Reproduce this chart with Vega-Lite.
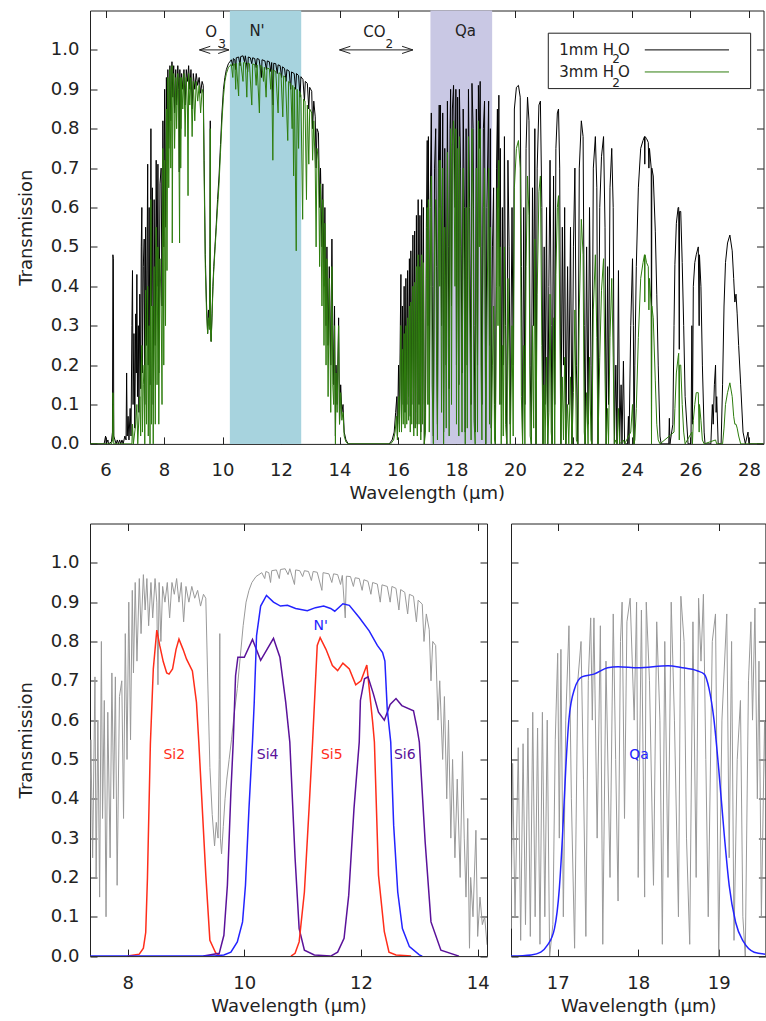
{
"$schema": "https://vega.github.io/schema/vega-lite/v6.json",
"padding": {"left": 16, "top": 9.5, "right": 0, "bottom": 0},
"config": {
 "font": "DejaVu Sans",
 "view": {"stroke": "#222", "strokeWidth": 1},
 "axis": {"domain": false, "grid": false, "tickColor": "#222", "tickWidth": 1, "tickSize": -7, "labelFontSize": 18, "labelColor": "#222", "titleFontSize": 18, "titleFontWeight": "normal", "titleColor": "#222"},
 "text": {"font": "DejaVu Sans", "color": "#222"}
},
"resolve": {"scale": {"color": "independent"}},
"datasets": {
 "t1": [
{"x":5.467,"y":0},{"x":5.95,"y":0},{"x":6.0,"y":0.02},{"x":6.02,"y":0},{"x":6.08,"y":0.01},{"x":6.1,"y":0},{"x":6.2,"y":0.005},{"x":6.235,"y":0.03},{"x":6.25,"y":0.48},{"x":6.265,"y":0.47},{"x":6.28,"y":0.02},{"x":6.32,"y":0.01},{"x":6.36,"y":0},{"x":6.4,"y":0.01},{"x":6.44,"y":0},{"x":6.48,"y":0.01},{"x":6.52,"y":0},{"x":6.56,"y":0.01},{"x":6.6,"y":0},{"x":6.66,"y":0.02},{"x":6.7,"y":0.01},{"x":6.72,"y":0.18},{"x":6.74,"y":0.02},{"x":6.77,"y":0.07},{"x":6.8,"y":0.01},{"x":6.84,"y":0.09},{"x":6.87,"y":0.02},{"x":6.9,"y":0.3},{"x":6.92,"y":0.44},{"x":6.94,"y":0.1},{"x":6.97,"y":0.28},{"x":7.0,"y":0.04},{"x":7.03,"y":0.33},{"x":7.05,"y":0.18},{"x":7.07,"y":0.43},{"x":7.09,"y":0.12},{"x":7.12,"y":0.3},{"x":7.14,"y":0.08},{"x":7.17,"y":0.38},{"x":7.2,"y":0.14},{"x":7.22,"y":0.5},{"x":7.24,"y":0.6},{"x":7.26,"y":0.18},{"x":7.29,"y":0.45},{"x":7.32,"y":0.52},{"x":7.34,"y":0.1},{"x":7.37,"y":0.55},{"x":7.4,"y":0.25},{"x":7.44,"y":0.71},{"x":7.46,"y":0.2},{"x":7.49,"y":0.6},{"x":7.52,"y":0.15},{"x":7.55,"y":0.8},{"x":7.57,"y":0.35},{"x":7.6,"y":0.65},{"x":7.63,"y":0.1},{"x":7.66,"y":0.62},{"x":7.7,"y":0.25},{"x":7.73,"y":0.72},{"x":7.76,"y":0.4},{"x":7.79,"y":0.71},{"x":7.82,"y":0.18},{"x":7.86,"y":0.66},{"x":7.9,"y":0.7},{"x":7.93,"y":0.35},{"x":7.96,"y":0.82},{"x":7.99,"y":0.5},{"x":8.02,"y":0.9},{"x":8.05,"y":0.55},{"x":8.08,"y":0.93},{"x":8.1,"y":0.72},{"x":8.13,"y":0.95},{"x":8.16,"y":0.75},{"x":8.2,"y":0.96},{"x":8.23,"y":0.82},{"x":8.27,"y":0.97},{"x":8.3,"y":0.88},{"x":8.33,"y":0.96},{"x":8.36,"y":0.84},{"x":8.4,"y":0.95},{"x":8.43,"y":0.86},{"x":8.47,"y":0.96},{"x":8.5,"y":0.9},{"x":8.52,"y":0.69},{"x":8.54,"y":0.95},{"x":8.57,"y":0.8},{"x":8.6,"y":0.94},{"x":8.64,"y":0.9},{"x":8.68,"y":0.95},{"x":8.72,"y":0.86},{"x":8.76,"y":0.95},{"x":8.8,"y":0.92},{"x":8.84,"y":0.96},{"x":8.88,"y":0.9},{"x":8.92,"y":0.95},{"x":8.96,"y":0.85},{"x":9.0,"y":0.94},{"x":9.05,"y":0.9},{"x":9.1,"y":0.94},{"x":9.15,"y":0.91},{"x":9.2,"y":0.93},{"x":9.25,"y":0.89},{"x":9.3,"y":0.92},{"x":9.34,"y":0.91},{"x":9.37,"y":0.72},{"x":9.41,"y":0.48},{"x":9.45,"y":0.36},{"x":9.49,"y":0.28},{"x":9.52,"y":0.34},{"x":9.55,"y":0.3},{"x":9.57,"y":0.5},{"x":9.58,"y":0.82},{"x":9.59,"y":0.3},{"x":9.61,"y":0.26},{"x":9.64,"y":0.33},{"x":9.67,"y":0.4},{"x":9.7,"y":0.45},{"x":9.74,"y":0.5},{"x":9.78,"y":0.55},{"x":9.83,"y":0.62},{"x":9.88,"y":0.68},{"x":9.93,"y":0.76},{"x":9.98,"y":0.84},{"x":10.03,"y":0.9},{"x":10.08,"y":0.93},{"x":10.13,"y":0.95},{"x":10.2,"y":0.965},{"x":10.25,"y":0.97},{"x":10.3,"y":0.975},
{"x":10.35,"y":0.96},{"x":10.37,"y":0.978},{"x":10.42,"y":0.975},{"x":10.45,"y":0.95},{"x":10.47,"y":0.98},{"x":10.55,"y":0.982},{"x":10.6,"y":0.96},{"x":10.62,"y":0.983},{"x":10.7,"y":0.985},{"x":10.75,"y":0.97},{"x":10.78,"y":0.985},{"x":10.86,"y":0.945},{"x":10.88,"y":0.982},{"x":10.95,"y":0.98},{"x":11.0,"y":0.965},{"x":11.03,"y":0.98},{"x":11.1,"y":0.978},{"x":11.15,"y":0.955},{"x":11.18,"y":0.978},{"x":11.25,"y":0.976},{"x":11.33,"y":0.93},{"x":11.35,"y":0.975},{"x":11.45,"y":0.972},{"x":11.5,"y":0.95},{"x":11.53,"y":0.972},{"x":11.6,"y":0.97},{"x":11.65,"y":0.945},{"x":11.68,"y":0.968},{"x":11.73,"y":0.86},{"x":11.75,"y":0.966},{"x":11.82,"y":0.965},{"x":11.87,"y":0.94},{"x":11.9,"y":0.962},{"x":11.97,"y":0.96},{"x":12.02,"y":0.93},{"x":12.05,"y":0.957},{"x":12.12,"y":0.953},{"x":12.17,"y":0.92},{"x":12.2,"y":0.95},{"x":12.28,"y":0.946},{"x":12.33,"y":0.9},{"x":12.36,"y":0.944},{"x":12.45,"y":0.94},{"x":12.5,"y":0.9},{"x":12.53,"y":0.94},{"x":12.6,"y":0.935},{"x":12.65,"y":0.88},{"x":12.68,"y":0.932},{"x":12.75,"y":0.925},{"x":12.8,"y":0.87},{"x":12.83,"y":0.92},{"x":12.9,"y":0.915},{"x":12.95,"y":0.85},{"x":12.98,"y":0.905},{"x":13.05,"y":0.895},{"x":13.08,"y":0.8},{"x":13.12,"y":0.87},{"x":13.17,"y":0.83},{"x":13.2,"y":0.7},{"x":13.23,"y":0.8},{"x":13.28,"y":0.79},{"x":13.32,"y":0.6},{"x":13.35,"y":0.7},{"x":13.4,"y":0.5},{"x":13.43,"y":0.66},{"x":13.47,"y":0.4},{"x":13.5,"y":0.6},{"x":13.54,"y":0.3},{"x":13.57,"y":0.5},{"x":13.61,"y":0.25},{"x":13.65,"y":0.45},{"x":13.7,"y":0.2},{"x":13.74,"y":0.52},{"x":13.77,"y":0.3},{"x":13.8,"y":0.15},{"x":13.83,"y":0.35},{"x":13.86,"y":0.02},{"x":13.88,"y":0.2},{"x":13.92,"y":0.1},{"x":13.97,"y":0.32},{"x":14.0,"y":0.05},{"x":14.04,"y":0.15},{"x":14.08,"y":0.08},{"x":14.12,"y":0.1},{"x":14.16,"y":0.03},{"x":14.22,"y":0.01},{"x":14.3,"y":0},{"x":15.7,"y":0},{"x":15.8,"y":0.01},{"x":15.87,"y":0.03},{"x":15.92,"y":0.08},{"x":15.96,"y":0.12},{"x":15.98,"y":0.02},{"x":16.02,"y":0.2},{"x":16.05,"y":0.05},{"x":16.08,"y":0.3},
{"x":16.1,"y":0.43},{"x":16.12,"y":0.06},{"x":16.15,"y":0.35},{"x":16.18,"y":0.1},{"x":16.21,"y":0.4},{"x":16.24,"y":0.08},{"x":16.27,"y":0.42},{"x":16.3,"y":0.1},{"x":16.33,"y":0.44},{"x":16.36,"y":0.12},{"x":16.39,"y":0.47},{"x":16.42,"y":0.07},{"x":16.44,"y":0.49},{"x":16.47,"y":0.1},{"x":16.51,"y":0.53},{"x":16.54,"y":0.04},{"x":16.57,"y":0.54},{"x":16.6,"y":0.08},{"x":16.63,"y":0.58},{"x":16.66,"y":0.05},{"x":16.69,"y":0.62},{"x":16.72,"y":0.1},{"x":16.75,"y":0.58},{"x":16.78,"y":0.03},{"x":16.81,"y":0.62},{"x":16.84,"y":0.1},{"x":16.87,"y":0.6},{"x":16.9,"y":0},{"x":16.94,"y":0.08},{"x":16.97,"y":0.55},{"x":17.0,"y":0.77},{"x":17.02,"y":0.3},{"x":17.04,"y":0.78},{"x":17.07,"y":0.1},{"x":17.1,"y":0.6},{"x":17.14,"y":0.84},{"x":17.17,"y":0.4},{"x":17.21,"y":0.02},{"x":17.25,"y":0.7},{"x":17.29,"y":0.8},{"x":17.32,"y":0.45},{"x":17.35,"y":0.05},{"x":17.38,"y":0.7},{"x":17.41,"y":0.86},{"x":17.43,"y":0.6},{"x":17.45,"y":0.86},{"x":17.49,"y":0.3},{"x":17.53,"y":0.84},{"x":17.56,"y":0.03},{"x":17.6,"y":0.75},{"x":17.65,"y":0.2},{"x":17.69,"y":0.87},{"x":17.72,"y":0.5},{"x":17.75,"y":0.14},{"x":17.78,"y":0.8},{"x":17.8,"y":0.9},{"x":17.83,"y":0.35},{"x":17.86,"y":0.85},{"x":17.9,"y":0.91},{"x":17.95,"y":0.6},{"x":17.98,"y":0.9},{"x":18.0,"y":0.2},{"x":18.04,"y":0.88},{"x":18.08,"y":0.15},{"x":18.1,"y":0.9},{"x":18.14,"y":0.7},{"x":18.19,"y":0.18},{"x":18.23,"y":0.85},{"x":18.27,"y":0.6},{"x":18.3,"y":0.03},{"x":18.33,"y":0.8},{"x":18.37,"y":0.2},{"x":18.41,"y":0.9},{"x":18.45,"y":0.6},{"x":18.5,"y":0.1},{"x":18.53,"y":0.915},{"x":18.57,"y":0.8},{"x":18.6,"y":0.3},{"x":18.64,"y":0.03},{"x":18.68,"y":0.85},{"x":18.72,"y":0.2},{"x":18.75,"y":0.91},{"x":18.78,"y":0.75},{"x":18.81,"y":0.92},{"x":18.84,"y":0.5},{"x":18.87,"y":0.1},{"x":18.92,"y":0.8},{"x":18.96,"y":0.87},{"x":19.0,"y":0},{"x":19.04,"y":0.6},{"x":19.1,"y":0.87},{"x":19.13,"y":0.25},{"x":19.16,"y":0.8},{"x":19.19,"y":0.04},{"x":19.23,"y":0.5},{"x":19.27,"y":0.65},{"x":19.3,"y":0.1},{"x":19.33,"y":0},{"x":19.37,"y":0.7},{"x":19.4,"y":0.85},{"x":19.42,"y":0.6},{"x":19.45,"y":0.885},{"x":19.48,"y":0.4},{"x":19.5,"y":0.75},{"x":19.53,"y":0.1},{"x":19.57,"y":0.6},{"x":19.6,"y":0.2},{"x":19.64,"y":0.78},{"x":19.68,"y":0.3},{"x":19.72,"y":0},{"x":19.76,"y":0.72},{"x":19.8,"y":0.5},{"x":19.84,"y":0.05},{"x":19.9,"y":0.6},{"x":19.94,"y":0.2},{"x":19.98,"y":0.85},{"x":20.05,"y":0.905},{"x":20.12,"y":0.91},{"x":20.18,"y":0.88},{"x":20.22,"y":0.45},{"x":20.26,"y":0},{"x":20.3,"y":0.6},{"x":20.34,"y":0.1},{"x":20.38,"y":0.75},{"x":20.43,"y":0.88},{"x":20.48,"y":0.82},{"x":20.52,"y":0.2},{"x":20.56,"y":0},{"x":20.6,"y":0.65},{"x":20.64,"y":0.3},{"x":20.68,"y":0.8},{"x":20.72,"y":0},{"x":20.76,"y":0.7},{"x":20.82,"y":0.86},{"x":20.87,"y":0.87},{"x":20.92,"y":0.6},{"x":20.96,"y":0},{"x":21.0,"y":0.5},{"x":21.03,"y":0.1},{"x":21.08,"y":0.6},{"x":21.12,"y":0},{"x":21.16,"y":0.4},{"x":21.2,"y":0.72},{"x":21.24,"y":0.3},{"x":21.27,"y":0},{"x":21.32,"y":0.68},{"x":21.36,"y":0.1},{"x":21.4,"y":0.75},{"x":21.45,"y":0.84},{"x":21.49,"y":0.85},{"x":21.53,"y":0.7},{"x":21.57,"y":0},{"x":21.62,"y":0.55},{"x":21.66,"y":0.2},{"x":21.7,"y":0.6},{"x":21.74,"y":0},{"x":21.8,"y":0.45},{"x":21.84,"y":0.1},{"x":21.9,"y":0.55},{"x":21.95,"y":0},{"x":22.0,"y":0.5},{"x":22.05,"y":0.7},{"x":22.1,"y":0.2},{"x":22.15,"y":0},{"x":22.2,"y":0.7},{"x":22.27,"y":0.82},{"x":22.33,"y":0.78},{"x":22.37,"y":0.3},{"x":22.4,"y":0},{"x":22.45,"y":0.5},{"x":22.5,"y":0.05},{"x":22.55,"y":0.6},{"x":22.6,"y":0.2},{"x":22.63,"y":0},{"x":22.68,"y":0.7},{"x":22.75,"y":0.78},{"x":22.8,"y":0.65},{"x":22.84,"y":0},{"x":22.9,"y":0.6},{"x":22.96,"y":0.73},{"x":23.03,"y":0.78},{"x":23.08,"y":0.55},{"x":23.12,"y":0},{"x":23.17,"y":0.45},{"x":23.2,"y":0.1},{"x":23.25,"y":0.65},{"x":23.31,"y":0.75},{"x":23.36,"y":0.6},{"x":23.4,"y":0},{"x":23.45,"y":0.2},{"x":23.49,"y":0},{"x":23.54,"y":0.44},{"x":23.58,"y":0},{"x":23.63,"y":0.15},{"x":23.66,"y":0},{"x":23.71,"y":0.21},{"x":23.75,"y":0},{"x":23.85,"y":0},{"x":23.88,"y":0.07},{"x":23.9,"y":0},{"x":23.96,"y":0.3},{"x":24.02,"y":0.47},{"x":24.05,"y":0.3},{"x":24.07,"y":0},{"x":24.1,"y":0.2},{"x":24.15,"y":0.45},{"x":24.22,"y":0.65},{"x":24.3,"y":0.75},{"x":24.38,"y":0.77},{"x":24.43,"y":0.78},{"x":24.44,"y":0.71},{"x":24.45,"y":0.78},{"x":24.5,"y":0.775},{"x":24.56,"y":0.765},{"x":24.58,"y":0.7},{"x":24.6,"y":0.75},{"x":24.66,"y":0.7},{"x":24.67,"y":0.02},{"x":24.68,"y":0.7},{"x":24.73,"y":0.68},{"x":24.8,"y":0.54},{"x":24.85,"y":0.38},{"x":24.9,"y":0.2},{"x":24.96,"y":0.02},{"x":25.0,"y":0},{"x":25.26,"y":0},{"x":25.28,"y":0.065},{"x":25.3,"y":0},{"x":25.4,"y":0.05},{"x":25.44,"y":0.3},{"x":25.47,"y":0.456},{"x":25.52,"y":0.56},{"x":25.58,"y":0.6},{"x":25.6,"y":0.6},{"x":25.62,"y":0.24},{"x":25.63,"y":0.59},{"x":25.67,"y":0.59},{"x":25.72,"y":0.46},{"x":25.77,"y":0.3},{"x":25.82,"y":0.12},{"x":25.92,"y":0},{"x":26.02,"y":0},{"x":26.05,"y":0.3},{"x":26.07,"y":0.05},{"x":26.1,"y":0.4},{"x":26.15,"y":0.46},{"x":26.2,"y":0.48},{"x":26.27,"y":0.5},{"x":26.3,"y":0.3},{"x":26.31,"y":0.48},{"x":26.36,"y":0.4},{"x":26.41,"y":0.2},{"x":26.47,"y":0.03},{"x":26.5,"y":0},{"x":26.7,"y":0},{"x":26.75,"y":0.1},{"x":26.78,"y":0.05},{"x":26.82,"y":0.15},{"x":26.86,"y":0.2},{"x":26.88,"y":0.08},{"x":26.9,"y":0.12},{"x":26.95,"y":0},{"x":27.05,"y":0},{"x":27.1,"y":0.15},{"x":27.15,"y":0.35},{"x":27.2,"y":0.46},{"x":27.27,"y":0.51},{"x":27.35,"y":0.53},{"x":27.43,"y":0.49},{"x":27.48,"y":0.42},{"x":27.52,"y":0.36},{"x":27.56,"y":0.38},{"x":27.6,"y":0.33},{"x":27.65,"y":0.25},{"x":27.72,"y":0.15},{"x":27.8,"y":0.03},{"x":27.88,"y":0},{"x":27.97,"y":0.03},{"x":28.0,"y":0},{"x":28.5,"y":0}
 ],
 "t3": [
{"x":5.467,"y":0},{"x":6.2,"y":0},{"x":6.24,"y":0.01},{"x":6.25,"y":0.13},{"x":6.27,"y":0.1},{"x":6.28,"y":0},{"x":6.9,"y":0},{"x":6.92,"y":0.05},{"x":6.95,"y":0},{"x":7.03,"y":0.05},{"x":7.07,"y":0.1},{"x":7.1,"y":0},{"x":7.17,"y":0.12},{"x":7.2,"y":0.02},{"x":7.22,"y":0.2},{"x":7.24,"y":0.25},{"x":7.26,"y":0.03},{"x":7.29,"y":0.15},{"x":7.32,"y":0.2},{"x":7.34,"y":0},{"x":7.37,"y":0.39},{"x":7.4,"y":0.05},{"x":7.44,"y":0.4},{"x":7.46,"y":0.02},{"x":7.49,"y":0.3},{"x":7.52,"y":0},{"x":7.55,"y":0.62},{"x":7.57,"y":0.05},{"x":7.6,"y":0.35},{"x":7.63,"y":0},{"x":7.66,"y":0.45},{"x":7.7,"y":0.05},{"x":7.73,"y":0.55},{"x":7.76,"y":0.15},{"x":7.79,"y":0.5},{"x":7.82,"y":0.05},{"x":7.86,"y":0.47},{"x":7.9,"y":0.35},{"x":7.93,"y":0.1},{"x":7.96,"y":0.75},{"x":7.99,"y":0.2},{"x":8.02,"y":0.72},{"x":8.05,"y":0.3},{"x":8.08,"y":0.85},{"x":8.1,"y":0.44},{"x":8.13,"y":0.93},{"x":8.16,"y":0.65},{"x":8.2,"y":0.95},{"x":8.23,"y":0.7},{"x":8.27,"y":0.96},{"x":8.28,"y":0.51},{"x":8.3,"y":0.85},{"x":8.33,"y":0.94},{"x":8.36,"y":0.75},{"x":8.4,"y":0.93},{"x":8.43,"y":0.8},{"x":8.47,"y":0.94},{"x":8.5,"y":0.85},{"x":8.53,"y":0.51},{"x":8.55,"y":0.93},{"x":8.57,"y":0.7},{"x":8.6,"y":0.93},{"x":8.64,"y":0.85},{"x":8.68,"y":0.94},{"x":8.72,"y":0.78},{"x":8.76,"y":0.93},{"x":8.8,"y":0.85},{"x":8.82,"y":0.63},{"x":8.84,"y":0.94},{"x":8.88,"y":0.86},{"x":8.92,"y":0.93},{"x":8.96,"y":0.78},{"x":9.0,"y":0.92},{"x":9.05,"y":0.82},{"x":9.1,"y":0.92},{"x":9.15,"y":0.87},{"x":9.2,"y":0.91},{"x":9.25,"y":0.84},{"x":9.3,"y":0.9},{"x":9.34,"y":0.89},{"x":9.37,"y":0.68},{"x":9.41,"y":0.45},{"x":9.45,"y":0.34},{"x":9.49,"y":0.28},{"x":9.52,"y":0.32},{"x":9.55,"y":0.29},{"x":9.57,"y":0.45},{"x":9.58,"y":0.8},{"x":9.59,"y":0.28},{"x":9.61,"y":0.26},{"x":9.64,"y":0.32},{"x":9.67,"y":0.39},{"x":9.7,"y":0.44},{"x":9.74,"y":0.49},{"x":9.78,"y":0.54},{"x":9.83,"y":0.6},{"x":9.88,"y":0.66},{"x":9.93,"y":0.74},{"x":9.98,"y":0.82},{"x":10.03,"y":0.88},{"x":10.08,"y":0.92},{"x":10.13,"y":0.94},{"x":10.2,"y":0.955},{"x":10.25,"y":0.96},{"x":10.3,"y":0.963},
{"x":10.35,"y":0.93},{"x":10.37,"y":0.965},{"x":10.42,"y":0.963},{"x":10.45,"y":0.9},{"x":10.47,"y":0.966},{"x":10.55,"y":0.883},{"x":10.57,"y":0.967},{"x":10.62,"y":0.968},{"x":10.7,"y":0.92},{"x":10.72,"y":0.968},{"x":10.78,"y":0.967},{"x":10.83,"y":0.88},{"x":10.86,"y":0.966},{"x":10.92,"y":0.965},{"x":11.0,"y":0.86},{"x":11.03,"y":0.964},{"x":11.1,"y":0.963},{"x":11.15,"y":0.91},{"x":11.18,"y":0.962},{"x":11.26,"y":0.84},{"x":11.29,"y":0.96},{"x":11.35,"y":0.958},{"x":11.4,"y":0.92},{"x":11.43,"y":0.956},{"x":11.49,"y":0.88},{"x":11.52,"y":0.954},{"x":11.6,"y":0.952},{"x":11.65,"y":0.9},{"x":11.68,"y":0.95},{"x":11.72,"y":0.72},{"x":11.75,"y":0.948},{"x":11.82,"y":0.945},{"x":11.9,"y":0.84},{"x":11.93,"y":0.942},{"x":12.0,"y":0.938},{"x":12.06,"y":0.83},{"x":12.09,"y":0.934},{"x":12.15,"y":0.93},{"x":12.23,"y":0.77},{"x":12.26,"y":0.92},{"x":12.33,"y":0.915},{"x":12.38,"y":0.8},{"x":12.4,"y":0.91},{"x":12.43,"y":0.68},{"x":12.46,"y":0.905},{"x":12.52,"y":0.49},{"x":12.55,"y":0.9},{"x":12.6,"y":0.75},{"x":12.63,"y":0.895},{"x":12.68,"y":0.885},{"x":12.74,"y":0.57},{"x":12.77,"y":0.875},{"x":12.82,"y":0.87},{"x":12.87,"y":0.62},{"x":12.9,"y":0.86},{"x":12.95,"y":0.71},{"x":12.98,"y":0.85},{"x":13.05,"y":0.84},{"x":13.08,"y":0.72},{"x":13.12,"y":0.82},{"x":13.17,"y":0.7},{"x":13.2,"y":0.5},{"x":13.23,"y":0.75},{"x":13.28,"y":0.72},{"x":13.32,"y":0.45},{"x":13.35,"y":0.66},{"x":13.4,"y":0.35},{"x":13.43,"y":0.62},{"x":13.47,"y":0.25},{"x":13.5,"y":0.56},{"x":13.54,"y":0.2},{"x":13.57,"y":0.47},{"x":13.61,"y":0.12},{"x":13.65,"y":0.42},{"x":13.7,"y":0.08},{"x":13.74,"y":0.45},{"x":13.77,"y":0.15},{"x":13.8,"y":0.1},{"x":13.83,"y":0.3},{"x":13.86,"y":0},{"x":13.88,"y":0.18},{"x":13.92,"y":0.08},{"x":13.97,"y":0.3},{"x":14.0,"y":0.05},{"x":14.04,"y":0.13},{"x":14.08,"y":0.06},{"x":14.12,"y":0.08},{"x":14.16,"y":0.02},{"x":14.22,"y":0.005},{"x":14.3,"y":0},{"x":15.75,"y":0},{"x":15.85,"y":0.01},{"x":15.9,"y":0.03},{"x":15.95,"y":0.07},{"x":15.98,"y":0.01},{"x":16.02,"y":0.12},{"x":16.05,"y":0.03},{"x":16.08,"y":0.2},
{"x":16.1,"y":0.3},{"x":16.12,"y":0.03},{"x":16.15,"y":0.24},{"x":16.18,"y":0.05},{"x":16.21,"y":0.28},{"x":16.24,"y":0.04},{"x":16.27,"y":0.3},{"x":16.3,"y":0.05},{"x":16.33,"y":0.32},{"x":16.36,"y":0.06},{"x":16.39,"y":0.35},{"x":16.42,"y":0.03},{"x":16.44,"y":0.36},{"x":16.47,"y":0.05},{"x":16.51,"y":0.4},{"x":16.54,"y":0.02},{"x":16.57,"y":0.41},{"x":16.6,"y":0.04},{"x":16.63,"y":0.45},{"x":16.66,"y":0.02},{"x":16.69,"y":0.48},{"x":16.72,"y":0.05},{"x":16.75,"y":0.45},{"x":16.78,"y":0.01},{"x":16.81,"y":0.48},{"x":16.84,"y":0.05},{"x":16.87,"y":0.46},{"x":16.9,"y":0},{"x":16.94,"y":0.03},{"x":16.97,"y":0.42},{"x":17.0,"y":0.6},{"x":17.02,"y":0.1},{"x":17.04,"y":0.62},{"x":17.07,"y":0.03},{"x":17.1,"y":0.4},{"x":17.14,"y":0.68},{"x":17.17,"y":0.15},{"x":17.21,"y":0},{"x":17.25,"y":0.5},{"x":17.29,"y":0.62},{"x":17.32,"y":0.2},{"x":17.35,"y":0.01},{"x":17.38,"y":0.5},{"x":17.41,"y":0.72},{"x":17.43,"y":0.4},{"x":17.45,"y":0.72},{"x":17.49,"y":0.08},{"x":17.53,"y":0.7},{"x":17.56,"y":0},{"x":17.6,"y":0.55},{"x":17.65,"y":0.04},{"x":17.69,"y":0.74},{"x":17.72,"y":0.25},{"x":17.75,"y":0.02},{"x":17.78,"y":0.65},{"x":17.8,"y":0.8},{"x":17.83,"y":0.1},{"x":17.86,"y":0.76},{"x":17.9,"y":0.82},{"x":17.95,"y":0.4},{"x":17.98,"y":0.8},{"x":18.0,"y":0.05},{"x":18.04,"y":0.75},{"x":18.08,"y":0.02},{"x":18.1,"y":0.78},{"x":18.14,"y":0.5},{"x":18.19,"y":0.03},{"x":18.23,"y":0.7},{"x":18.27,"y":0.35},{"x":18.3,"y":0},{"x":18.33,"y":0.6},{"x":18.37,"y":0.04},{"x":18.41,"y":0.78},{"x":18.45,"y":0.35},{"x":18.5,"y":0.01},{"x":18.53,"y":0.8},{"x":18.57,"y":0.6},{"x":18.6,"y":0.06},{"x":18.64,"y":0},{"x":18.68,"y":0.7},{"x":18.72,"y":0.03},{"x":18.75,"y":0.82},{"x":18.78,"y":0.5},{"x":18.81,"y":0.8},{"x":18.84,"y":0.2},{"x":18.87,"y":0.01},{"x":18.92,"y":0.6},{"x":18.96,"y":0.7},{"x":19.0,"y":0},{"x":19.04,"y":0.3},{"x":19.1,"y":0.7},{"x":19.13,"y":0.05},{"x":19.16,"y":0.55},{"x":19.19,"y":0},{"x":19.23,"y":0.2},{"x":19.27,"y":0.35},{"x":19.3,"y":0.01},{"x":19.33,"y":0},{"x":19.37,"y":0.4},{"x":19.4,"y":0.65},{"x":19.42,"y":0.3},{"x":19.45,"y":0.72},{"x":19.48,"y":0.1},{"x":19.5,"y":0.5},{"x":19.53,"y":0},{"x":19.57,"y":0.25},{"x":19.6,"y":0.02},{"x":19.64,"y":0.5},{"x":19.68,"y":0.05},{"x":19.72,"y":0},{"x":19.76,"y":0.42},{"x":19.8,"y":0.2},{"x":19.84,"y":0},{"x":19.9,"y":0.3},{"x":19.94,"y":0.02},{"x":19.98,"y":0.65},{"x":20.05,"y":0.75},{"x":20.12,"y":0.77},{"x":20.18,"y":0.7},{"x":20.22,"y":0.12},{"x":20.26,"y":0},{"x":20.3,"y":0.25},{"x":20.34,"y":0},{"x":20.38,"y":0.45},{"x":20.43,"y":0.68},{"x":20.48,"y":0.58},{"x":20.52,"y":0.02},{"x":20.56,"y":0},{"x":20.6,"y":0.3},{"x":20.64,"y":0.04},{"x":20.68,"y":0.52},{"x":20.72,"y":0},{"x":20.76,"y":0.38},{"x":20.82,"y":0.64},{"x":20.87,"y":0.68},{"x":20.92,"y":0.25},{"x":20.96,"y":0},{"x":21.0,"y":0.15},{"x":21.03,"y":0},{"x":21.08,"y":0.22},{"x":21.12,"y":0},{"x":21.16,"y":0.08},{"x":21.2,"y":0.38},{"x":21.24,"y":0.03},{"x":21.27,"y":0},{"x":21.32,"y":0.32},{"x":21.36,"y":0},{"x":21.4,"y":0.43},{"x":21.45,"y":0.6},{"x":21.49,"y":0.63},{"x":21.53,"y":0.35},{"x":21.57,"y":0},{"x":21.62,"y":0.17},{"x":21.66,"y":0.01},{"x":21.7,"y":0.22},{"x":21.74,"y":0},{"x":21.8,"y":0.1},{"x":21.84,"y":0},{"x":21.9,"y":0.17},{"x":21.95,"y":0},{"x":22.0,"y":0.13},{"x":22.05,"y":0.34},{"x":22.1,"y":0.01},{"x":22.15,"y":0},{"x":22.2,"y":0.34},{"x":22.27,"y":0.57},{"x":22.33,"y":0.48},{"x":22.37,"y":0.03},{"x":22.4,"y":0},{"x":22.45,"y":0.13},{"x":22.5,"y":0},{"x":22.55,"y":0.22},{"x":22.6,"y":0.01},{"x":22.63,"y":0},{"x":22.68,"y":0.34},{"x":22.75,"y":0.48},{"x":22.8,"y":0.27},{"x":22.84,"y":0},{"x":22.9,"y":0.22},{"x":22.96,"y":0.39},{"x":23.03,"y":0.47},{"x":23.08,"y":0.17},{"x":23.12,"y":0},{"x":23.17,"y":0.09},{"x":23.2,"y":0},{"x":23.25,"y":0.27},{"x":23.31,"y":0.42},{"x":23.36,"y":0.22},{"x":23.4,"y":0},{"x":23.45,"y":0.01},{"x":23.49,"y":0},{"x":23.54,"y":0.09},{"x":23.58,"y":0},{"x":23.71,"y":0.01},{"x":23.75,"y":0},{"x":23.96,"y":0.03},{"x":24.02,"y":0.1},{"x":24.05,"y":0.03},{"x":24.07,"y":0},{"x":24.1,"y":0.01},{"x":24.15,"y":0.09},{"x":24.22,"y":0.27},{"x":24.3,"y":0.42},{"x":24.38,"y":0.46},{"x":24.43,"y":0.48},{"x":24.44,"y":0.36},{"x":24.45,"y":0.48},{"x":24.5,"y":0.46},{"x":24.56,"y":0.45},{"x":24.58,"y":0.34},{"x":24.6,"y":0.42},{"x":24.66,"y":0.35},{"x":24.67,"y":0},{"x":24.68,"y":0.35},{"x":24.73,"y":0.32},{"x":24.8,"y":0.16},{"x":24.85,"y":0.05},{"x":24.9,"y":0.01},{"x":24.96,"y":0},{"x":25.44,"y":0.03},{"x":25.47,"y":0.09},{"x":25.52,"y":0.18},{"x":25.58,"y":0.22},{"x":25.6,"y":0.23},{"x":25.62,"y":0.01},{"x":25.63,"y":0.2},{"x":25.67,"y":0.2},{"x":25.72,"y":0.1},{"x":25.77,"y":0.03},{"x":25.82,"y":0},{"x":26.05,"y":0.03},{"x":26.07,"y":0},{"x":26.1,"y":0.06},{"x":26.15,"y":0.1},{"x":26.2,"y":0.13},{"x":26.27,"y":0.13},{"x":26.3,"y":0.03},{"x":26.31,"y":0.1},{"x":26.36,"y":0.06},{"x":26.41,"y":0.01},{"x":26.47,"y":0},{"x":26.86,"y":0.01},{"x":26.9,"y":0},{"x":27.1,"y":0},{"x":27.15,"y":0.04},{"x":27.2,"y":0.1},{"x":27.27,"y":0.13},{"x":27.35,"y":0.155},{"x":27.43,"y":0.12},{"x":27.48,"y":0.07},{"x":27.52,"y":0.05},{"x":27.56,"y":0.05},{"x":27.6,"y":0.04},{"x":27.65,"y":0.02},{"x":27.72,"y":0},{"x":28.5,"y":0}
 ],
 "fN": [
{"f":"Si2","x":8.0,"y":0},{"f":"Si2","x":8.2,"y":0.005},{"f":"Si2","x":8.27,"y":0.02},{"f":"Si2","x":8.31,"y":0.06},{"f":"Si2","x":8.34,"y":0.2},{"f":"Si2","x":8.39,"y":0.54},{"f":"Si2","x":8.44,"y":0.73},{"f":"Si2","x":8.5,"y":0.829},{"f":"Si2","x":8.55,"y":0.79},{"f":"Si2","x":8.61,"y":0.749},{"f":"Si2","x":8.67,"y":0.72},{"f":"Si2","x":8.71,"y":0.717},{"f":"Si2","x":8.77,"y":0.73},{"f":"Si2","x":8.83,"y":0.78},{"f":"Si2","x":8.88,"y":0.806},{"f":"Si2","x":8.95,"y":0.78},{"f":"Si2","x":9.01,"y":0.755},{"f":"Si2","x":9.11,"y":0.725},{"f":"Si2","x":9.18,"y":0.645},{"f":"Si2","x":9.22,"y":0.544},{"f":"Si2","x":9.34,"y":0.206},{"f":"Si2","x":9.41,"y":0.04},{"f":"Si2","x":9.51,"y":0.008},{"f":"Si2","x":9.6,"y":0},
{"f":"Si4","x":9.3,"y":0},{"f":"Si4","x":9.57,"y":0.007},{"f":"Si4","x":9.65,"y":0.053},{"f":"Si4","x":9.71,"y":0.18},{"f":"Si4","x":9.77,"y":0.417},{"f":"Si4","x":9.81,"y":0.544},{"f":"Si4","x":9.85,"y":0.713},{"f":"Si4","x":9.89,"y":0.76},{"f":"Si4","x":10.0,"y":0.76},{"f":"Si4","x":10.14,"y":0.805},{"f":"Si4","x":10.28,"y":0.752},{"f":"Si4","x":10.5,"y":0.808},{"f":"Si4","x":10.61,"y":0.76},{"f":"Si4","x":10.71,"y":0.645},{"f":"Si4","x":10.78,"y":0.544},{"f":"Si4","x":10.87,"y":0.25},{"f":"Si4","x":10.94,"y":0.07},{"f":"Si4","x":11.03,"y":0.015},{"f":"Si4","x":11.2,"y":0.003},{"f":"Si4","x":11.48,"y":0},
{"f":"Si5","x":10.8,"y":0},{"f":"Si5","x":10.87,"y":0.007},{"f":"Si5","x":10.94,"y":0.036},{"f":"Si5","x":11.03,"y":0.163},{"f":"Si5","x":11.11,"y":0.375},{"f":"Si5","x":11.17,"y":0.544},{"f":"Si5","x":11.25,"y":0.79},{"f":"Si5","x":11.3,"y":0.81},{"f":"Si5","x":11.4,"y":0.78},{"f":"Si5","x":11.51,"y":0.739},{"f":"Si5","x":11.6,"y":0.726},{"f":"Si5","x":11.69,"y":0.745},{"f":"Si5","x":11.8,"y":0.73},{"f":"Si5","x":11.91,"y":0.69},{"f":"Si5","x":12.0,"y":0.7},{"f":"Si5","x":12.1,"y":0.74},{"f":"Si5","x":12.2,"y":0.595},{"f":"Si5","x":12.23,"y":0.544},{"f":"Si5","x":12.3,"y":0.206},{"f":"Si5","x":12.4,"y":0.062},{"f":"Si5","x":12.48,"y":0.01},{"f":"Si5","x":12.6,"y":0.003},{"f":"Si5","x":12.86,"y":0},
{"f":"Si6","x":11.48,"y":0},{"f":"Si6","x":11.6,"y":0.01},{"f":"Si6","x":11.71,"y":0.045},{"f":"Si6","x":11.79,"y":0.155},{"f":"Si6","x":11.88,"y":0.375},{"f":"Si6","x":11.97,"y":0.544},{"f":"Si6","x":11.99,"y":0.65},{"f":"Si6","x":12.06,"y":0.705},{"f":"Si6","x":12.12,"y":0.71},{"f":"Si6","x":12.21,"y":0.668},{"f":"Si6","x":12.3,"y":0.62},{"f":"Si6","x":12.4,"y":0.6},{"f":"Si6","x":12.5,"y":0.64},{"f":"Si6","x":12.6,"y":0.655},{"f":"Si6","x":12.7,"y":0.637},{"f":"Si6","x":12.9,"y":0.624},{"f":"Si6","x":12.96,"y":0.58},{"f":"Si6","x":13.0,"y":0.544},{"f":"Si6","x":13.1,"y":0.29},{"f":"Si6","x":13.2,"y":0.087},{"f":"Si6","x":13.37,"y":0.015},{"f":"Si6","x":13.68,"y":0},
{"f":"N'","x":7.36,"y":0},{"f":"N'","x":9.49,"y":0},{"f":"N'","x":9.65,"y":0.003},{"f":"N'","x":9.77,"y":0.01},{"f":"N'","x":9.88,"y":0.036},{"f":"N'","x":9.97,"y":0.087},{"f":"N'","x":10.02,"y":0.18},{"f":"N'","x":10.08,"y":0.375},{"f":"N'","x":10.14,"y":0.544},{"f":"N'","x":10.17,"y":0.645},{"f":"N'","x":10.21,"y":0.815},{"f":"N'","x":10.28,"y":0.89},{"f":"N'","x":10.38,"y":0.917},{"f":"N'","x":10.5,"y":0.9},{"f":"N'","x":10.62,"y":0.89},{"f":"N'","x":10.74,"y":0.892},{"f":"N'","x":10.88,"y":0.884},{"f":"N'","x":11.08,"y":0.878},{"f":"N'","x":11.22,"y":0.886},{"f":"N'","x":11.36,"y":0.89},{"f":"N'","x":11.48,"y":0.884},{"f":"N'","x":11.55,"y":0.877},{"f":"N'","x":11.69,"y":0.896},{"f":"N'","x":11.8,"y":0.892},{"f":"N'","x":11.97,"y":0.861},{"f":"N'","x":12.14,"y":0.827},{"f":"N'","x":12.28,"y":0.79},{"f":"N'","x":12.37,"y":0.772},{"f":"N'","x":12.41,"y":0.75},{"f":"N'","x":12.45,"y":0.628},{"f":"N'","x":12.51,"y":0.544},{"f":"N'","x":12.56,"y":0.333},{"f":"N'","x":12.63,"y":0.163},{"f":"N'","x":12.71,"y":0.07},{"f":"N'","x":12.83,"y":0.024},{"f":"N'","x":13.0,"y":0.003},{"f":"N'","x":13.05,"y":0}
 ],
 "fQ": [
{"f":"Qa","x":16.42,"y":0},{"f":"Qa","x":16.67,"y":0.003},{"f":"Qa","x":16.79,"y":0.01},{"f":"Qa","x":16.87,"y":0.027},{"f":"Qa","x":16.96,"y":0.07},{"f":"Qa","x":17.02,"y":0.171},{"f":"Qa","x":17.06,"y":0.306},{"f":"Qa","x":17.1,"y":0.476},{"f":"Qa","x":17.14,"y":0.603},{"f":"Qa","x":17.21,"y":0.68},{"f":"Qa","x":17.3,"y":0.71},{"f":"Qa","x":17.45,"y":0.717},{"f":"Qa","x":17.62,"y":0.733},{"f":"Qa","x":17.75,"y":0.736},{"f":"Qa","x":18.0,"y":0.733},{"f":"Qa","x":18.37,"y":0.738},{"f":"Qa","x":18.53,"y":0.734},{"f":"Qa","x":18.74,"y":0.725},{"f":"Qa","x":18.82,"y":0.717},{"f":"Qa","x":18.88,"y":0.68},{"f":"Qa","x":18.94,"y":0.603},{"f":"Qa","x":19.0,"y":0.476},{"f":"Qa","x":19.07,"y":0.306},{"f":"Qa","x":19.13,"y":0.18},{"f":"Qa","x":19.21,"y":0.086},{"f":"Qa","x":19.31,"y":0.036},{"f":"Qa","x":19.44,"y":0.01},{"f":"Qa","x":19.58,"y":0.005}
 ]
},
"spacing": 79,
"bounds": "flush",
"vconcat": [
 {
  "width": 673.5,
  "height": 433.4,
  "resolve": {"axis": {"x": "independent", "y": "independent"}},
  "layer": [
   {
    "data": {"values": [{"band": "N'", "x": 10.25, "x2": 12.69}, {"band": "Qa", "x": 17.11, "x2": 19.22}]},
    "mark": {"type": "rect"},
    "encoding": {
     "x": {"field": "x", "type": "quantitative", "scale": {"domain": [5.467, 28.5], "nice": false, "zero": false},
           "axis": {"orient": "bottom", "values": [6,8,10,12,14,16,18,20,22,24,26,28], "format": "d", "labelPadding": 25, "title": "Wavelength (μm)", "titlePadding": 5}},
     "x2": {"field": "x2"},
     "y": {"datum": 0, "type": "quantitative", "scale": {"domain": [0, 1.1], "nice": false},
           "axis": {"orient": "left", "values": [0,0.1,0.2,0.3,0.4,0.5,0.6,0.7,0.8,0.9,1.0], "format": ".1f", "labelPadding": 18, "title": "Transmission", "titlePadding": 15}},
     "y2": {"datum": 1.1},
     "color": {"field": "band", "type": "nominal", "scale": {"domain": ["N'", "Qa"], "range": ["#a7d3de", "#c9c8e4"]}, "legend": null}
    }
   },
   {
    "data": {"name": "t1"},
    "mark": {"type": "line", "color": "#000000", "strokeWidth": 1, "clip": true},
    "encoding": {
     "x": {"field": "x", "type": "quantitative", "scale": {"domain": [5.467, 28.5], "nice": false, "zero": false},
           "axis": {"orient": "top", "values": [6,8,10,12,14,16,18,20,22,24,26,28], "labels": false, "title": null}},
     "y": {"field": "y", "type": "quantitative", "scale": {"domain": [0, 1.1], "nice": false},
           "axis": {"orient": "right", "values": [0,0.1,0.2,0.3,0.4,0.5,0.6,0.7,0.8,0.9,1.0], "labels": false, "title": null}}
    }
   },
   {
    "data": {"name": "t3"},
    "mark": {"type": "line", "color": "#2e7d0e", "strokeWidth": 1, "clip": true},
    "encoding": {
     "x": {"field": "x", "type": "quantitative", "scale": {"domain": [5.467, 28.5], "nice": false, "zero": false}, "axis": null},
     "y": {"field": "y", "type": "quantitative", "scale": {"domain": [0, 1.1], "nice": false}, "axis": null}
    }
   },
   {
    "data": {"values": [{"x": 9.21, "x2": 10.22, "y": 1.0}, {"x": 14.0, "x2": 16.51, "y": 1.0}]},
    "mark": {"type": "rule", "color": "#222", "strokeWidth": 1},
    "encoding": {
     "x": {"field": "x", "type": "quantitative", "axis": null},
     "x2": {"field": "x2"},
     "y": {"field": "y", "type": "quantitative", "axis": null}
    }
   },
   {
    "data": {"values": [{"x": 9.21, "x2": 10.22, "y": 1.0}, {"x": 14.0, "x2": 16.51, "y": 1.0}]},
    "mark": {"type": "point", "shape": "M 3 -1 L 0 0 L 3 1", "filled": false, "size": 52, "color": "#222", "strokeWidth": 1, "opacity": 1},
    "encoding": {
     "x": {"field": "x", "type": "quantitative", "axis": null},
     "y": {"field": "y", "type": "quantitative", "axis": null}
    }
   },
   {
    "data": {"values": [{"x": 9.21, "x2": 10.22, "y": 1.0}, {"x": 14.0, "x2": 16.51, "y": 1.0}]},
    "mark": {"type": "point", "shape": "M -3 -1 L 0 0 L -3 1", "filled": false, "size": 52, "color": "#222", "strokeWidth": 1, "opacity": 1},
    "encoding": {
     "x": {"field": "x2", "type": "quantitative", "axis": null},
     "y": {"field": "y", "type": "quantitative", "axis": null}
    }
   },
   {
    "data": {"values": [{"x": 11.18, "y": 1.048, "t": "N'"}, {"x": 18.31, "y": 1.048, "t": "Qa"}, {"x": 9.61, "y": 1.046, "t": "O"}, {"x": 15.19, "y": 1.046, "t": "CO"}]},
    "mark": {"type": "text", "fontSize": 15, "align": "center", "baseline": "middle"},
    "encoding": {
     "x": {"field": "x", "type": "quantitative", "axis": null},
     "y": {"field": "y", "type": "quantitative", "axis": null},
     "text": {"field": "t"}
    }
   },
   {
    "data": {"values": [{"x": 9.98, "y": 1.016, "t": "3"}, {"x": 15.7, "y": 1.016, "t": "2"}, {"x": 23.46, "y": 0.978, "t": "2"}, {"x": 23.46, "y": 0.917, "t": "2"}]},
    "mark": {"type": "text", "fontSize": 12, "align": "center", "baseline": "middle"},
    "encoding": {
     "x": {"field": "x", "type": "quantitative", "axis": null},
     "y": {"field": "y", "type": "quantitative", "axis": null},
     "text": {"field": "t"}
    }
   },
   {
    "data": {"values": [{"x": 21.14, "x2": 28.06, "y": 0.9018, "y2": 1.0424}]},
    "mark": {"type": "rect", "fill": null, "fillOpacity": 0, "stroke": "#222", "strokeWidth": 1},
    "encoding": {
     "x": {"field": "x", "type": "quantitative", "axis": null},
     "x2": {"field": "x2"},
     "y": {"field": "y", "type": "quantitative", "axis": null},
     "y2": {"field": "y2"}
    }
   },
   {
    "data": {"values": [{"x": 23.39, "y": 1.0, "t": "1mm H"}, {"x": 23.39, "y": 0.944, "t": "3mm H"}]},
    "mark": {"type": "text", "fontSize": 15, "align": "right", "baseline": "middle"},
    "encoding": {
     "x": {"field": "x", "type": "quantitative", "axis": null},
     "y": {"field": "y", "type": "quantitative", "axis": null},
     "text": {"field": "t"}
    }
   },
   {
    "data": {"values": [{"x": 23.52, "y": 1.0, "t": "O"}, {"x": 23.52, "y": 0.944, "t": "O"}]},
    "mark": {"type": "text", "fontSize": 15, "align": "left", "baseline": "middle"},
    "encoding": {
     "x": {"field": "x", "type": "quantitative", "axis": null},
     "y": {"field": "y", "type": "quantitative", "axis": null},
     "text": {"field": "t"}
    }
   },
   {
    "data": {"values": [{"x": 24.44, "x2": 27.32, "y": 1.0}]},
    "mark": {"type": "rule", "color": "#000000", "strokeWidth": 1},
    "encoding": {
     "x": {"field": "x", "type": "quantitative", "axis": null},
     "x2": {"field": "x2"},
     "y": {"field": "y", "type": "quantitative", "axis": null}
    }
   },
   {
    "data": {"values": [{"x": 24.44, "x2": 27.32, "y": 0.944}]},
    "mark": {"type": "rule", "color": "#2e7d0e", "strokeWidth": 1},
    "encoding": {
     "x": {"field": "x", "type": "quantitative", "axis": null},
     "x2": {"field": "x2"},
     "y": {"field": "y", "type": "quantitative", "axis": null}
    }
   }
  ]
 },
 {
  "spacing": 24,
  "bounds": "flush",
  "resolve": {"scale": {"color": "independent"}},
  "hconcat": [
   {
    "width": 397,
    "height": 432.6,
    "resolve": {"axis": {"x": "independent", "y": "independent"}},
    "layer": [
     {
      "data": {"name": "t1"},
      "mark": {"type": "line", "color": "#999999", "strokeWidth": 1, "clip": true},
      "encoding": {
       "x": {"field": "x", "type": "quantitative", "scale": {"domain": [7.355, 14.16], "nice": false, "zero": false},
             "axis": {"orient": "bottom", "values": [8,10,12,14], "format": "d", "labelPadding": 25, "title": "Wavelength (μm)", "titlePadding": 5}},
       "y": {"field": "y", "type": "quantitative", "scale": {"domain": [0, 1.1], "nice": false},
             "axis": {"orient": "left", "values": [0,0.1,0.2,0.3,0.4,0.5,0.6,0.7,0.8,0.9,1.0], "format": ".1f", "labelPadding": 18, "title": "Transmission", "titlePadding": 15}}
      }
     },
     {
      "data": {"name": "fN"},
      "mark": {"type": "line", "strokeWidth": 1.5, "clip": true},
      "encoding": {
       "x": {"field": "x", "type": "quantitative", "scale": {"domain": [7.355, 14.16], "nice": false, "zero": false},
             "axis": {"orient": "top", "values": [8,10,12,14], "labels": false, "title": null}},
       "y": {"field": "y", "type": "quantitative", "scale": {"domain": [0, 1.1], "nice": false},
             "axis": {"orient": "right", "values": [0,0.1,0.2,0.3,0.4,0.5,0.6,0.7,0.8,0.9,1.0], "labels": false, "title": null}},
       "color": {"field": "f", "type": "nominal", "scale": {"domain": ["Si2", "Si4", "Si5", "Si6", "N'"], "range": ["#ff2d1a", "#5a129a", "#ff2d1a", "#5a129a", "#2323ff"]}, "legend": null}
      }
     },
     {
      "data": {"values": [{"f": "Si2", "x": 8.8, "y": 0.512}, {"f": "Si4", "x": 10.4, "y": 0.512}, {"f": "Si5", "x": 11.5, "y": 0.512}, {"f": "Si6", "x": 12.75, "y": 0.512}, {"f": "N'", "x": 11.31, "y": 0.84}]},
      "mark": {"type": "text", "fontSize": 14, "align": "center", "baseline": "middle"},
      "encoding": {
       "x": {"field": "x", "type": "quantitative", "axis": null},
       "y": {"field": "y", "type": "quantitative", "axis": null},
       "text": {"field": "f"},
       "color": {"field": "f", "type": "nominal", "scale": {"domain": ["Si2", "Si4", "Si5", "Si6", "N'"], "range": ["#ff2d1a", "#5a129a", "#ff2d1a", "#5a129a", "#2323ff"]}, "legend": null}
      }
     }
    ]
   },
   {
    "width": 254.4,
    "height": 432.6,
    "resolve": {"axis": {"x": "independent", "y": "independent"}},
    "layer": [
     {
      "data": {"name": "t1"},
      "mark": {"type": "line", "color": "#999999", "strokeWidth": 1, "clip": true},
      "encoding": {
       "x": {"field": "x", "type": "quantitative", "scale": {"domain": [16.42, 19.58], "nice": false, "zero": false},
             "axis": {"orient": "bottom", "values": [17,18,19], "format": "d", "labelPadding": 25, "title": "Wavelength (μm)", "titlePadding": 5}},
       "y": {"field": "y", "type": "quantitative", "scale": {"domain": [0, 1.1], "nice": false},
             "axis": {"orient": "left", "values": [0,0.1,0.2,0.3,0.4,0.5,0.6,0.7,0.8,0.9,1.0], "labels": false, "title": null}}
      }
     },
     {
      "data": {"name": "fQ"},
      "mark": {"type": "line", "color": "#2323ff", "strokeWidth": 1.5, "clip": true, "interpolate": "monotone"},
      "encoding": {
       "x": {"field": "x", "type": "quantitative", "scale": {"domain": [16.42, 19.58], "nice": false, "zero": false},
             "axis": {"orient": "top", "values": [17,18,19], "labels": false, "title": null}},
       "y": {"field": "y", "type": "quantitative", "scale": {"domain": [0, 1.1], "nice": false},
             "axis": {"orient": "right", "values": [0,0.1,0.2,0.3,0.4,0.5,0.6,0.7,0.8,0.9,1.0], "labels": false, "title": null}}
      }
     },
     {
      "data": {"values": [{"f": "Qa", "x": 18.01, "y": 0.512}]},
      "mark": {"type": "text", "fontSize": 14, "align": "center", "baseline": "middle", "color": "#2323ff"},
      "encoding": {
       "x": {"field": "x", "type": "quantitative", "axis": null},
       "y": {"field": "y", "type": "quantitative", "axis": null},
       "text": {"field": "f"}
      }
     }
    ]
   }
  ]
 }
]
}
